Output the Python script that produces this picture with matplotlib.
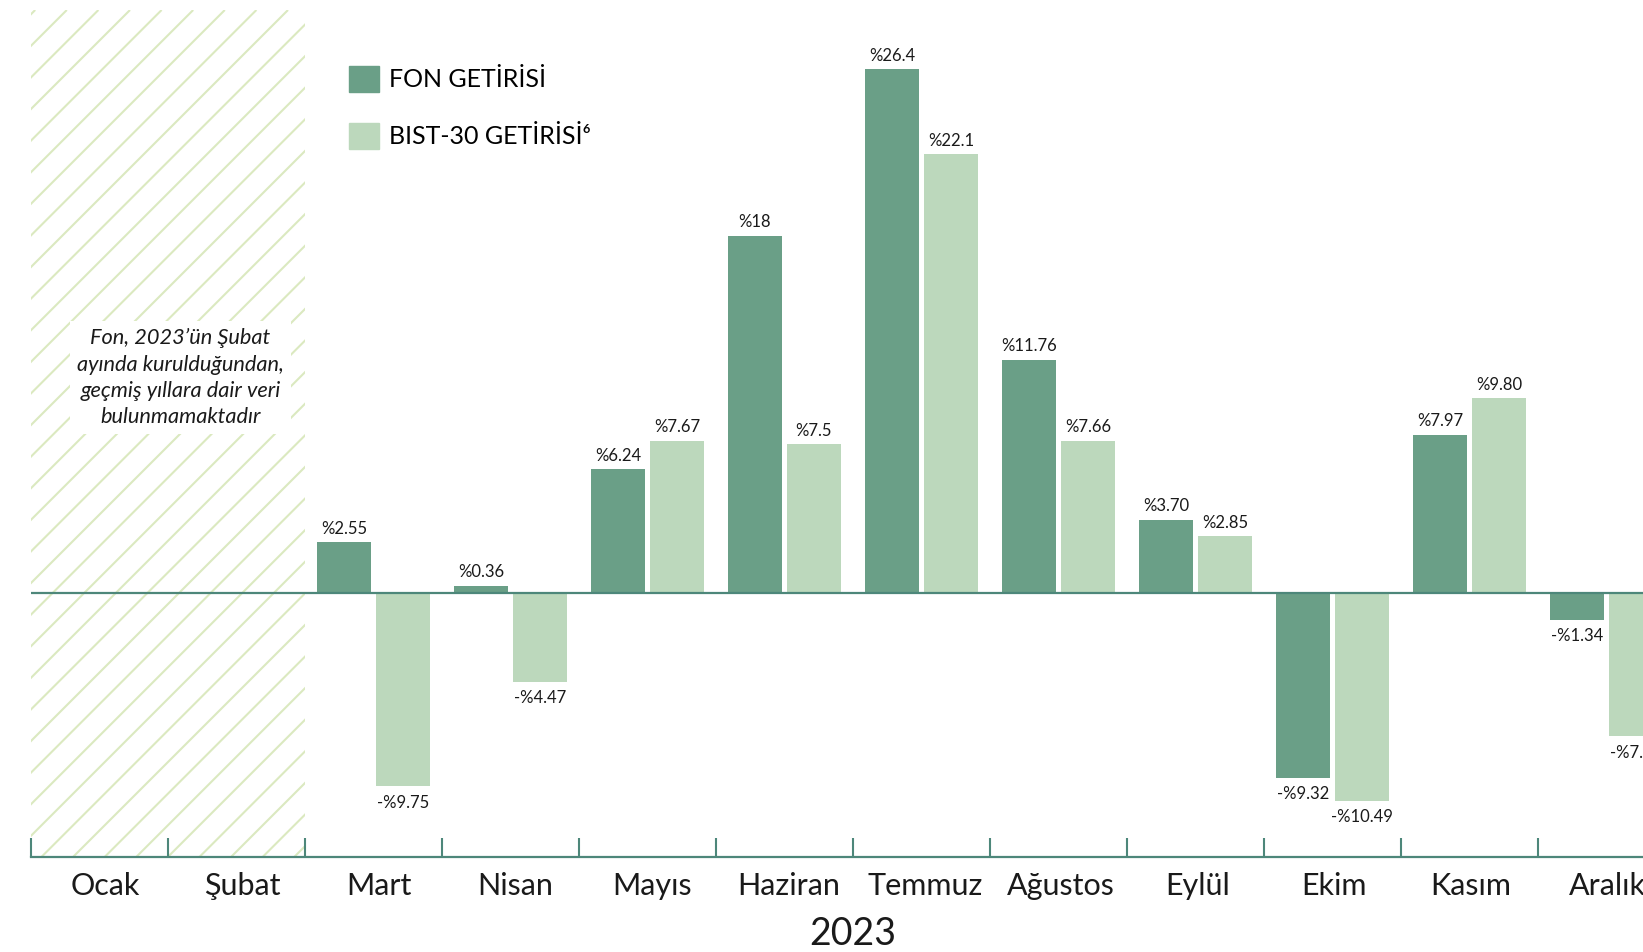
import matplotlib
matplotlib.use("Agg")
import matplotlib.pyplot as plt
import numpy as np
from matplotlib.patches import Patch, Rectangle
from matplotlib.collections import LineCollection

plt.rcParams["font.family"] = ["Lato", "DejaVu Sans"]

months = ["Ocak", "Şubat", "Mart", "Nisan", "Mayıs", "Haziran",
          "Temmuz", "Ağustos", "Eylül", "Ekim", "Kasım", "Aralık"]

# data starts in March (fund founded in February)
first_month = 2
fon_values = [2.55, 0.36, 6.24, 18.0, 26.4, 11.76, 3.70, -9.32, 7.97, -1.34]
bist_values = [-9.75, -4.47, 7.67, 7.5, 22.1, 7.66, 2.85, -10.49, 9.80, -7.23]
fon_labels = ["%2.55", "%0.36", "%6.24", "%18", "%26.4", "%11.76", "%3.70",
              "-%9.32", "%7.97", "-%1.34"]
bist_labels = ["-%9.75", "-%4.47", "%7.67", "%7.5", "%22.1", "%7.66", "%2.85",
               "-%10.49", "%9.80", "-%7.23"]

FON_COLOR = "#6a9f87"
BIST_COLOR = "#bcd8bc"
LINE_COLOR = "#4d877a"
HATCH_COLOR = "#dbe9c0"
TEXT_COLOR = "#1a1a1a"

W, H = 1643, 952
fig = plt.figure(figsize=(W / 100, H / 100), dpi=100)
# axes run past the right edge like the original crop
left, right, top, bottom = 31, 31 + 12 * 137, 10, 857
ax = fig.add_axes([left / W, 1 - bottom / H, (right - left) / W, (bottom - top) / H])
ax.set_xlim(0, 12)
ax.set_ylim(-13.31, 29.38)

x = np.arange(first_month, 12) + 0.5
bw = 0.39
ax.bar(x - 0.215, fon_values, width=bw, color=FON_COLOR, zorder=2)
ax.bar(x + 0.215, bist_values, width=bw, color=BIST_COLOR, zorder=2)
ax.axhline(0, color=LINE_COLOR, lw=1.6, zorder=3)

for xs, vals, labs in [(x - 0.215, fon_values, fon_labels),
                       (x + 0.215, bist_values, bist_labels)]:
    for xi, v, lab in zip(xs, vals, labs):
        off = 4 if v >= 0 else -6
        ax.annotate(lab, (xi, v), xytext=(0, off), textcoords="offset points",
                    ha="center", va="bottom" if v >= 0 else "top",
                    fontsize=12, color=TEXT_COLOR, zorder=4)

# hatched "no data" zone for Ocak-Şubat
fig.canvas.draw()
p0 = ax.transData.transform((0, 0))
p1 = ax.transData.transform((1, 1))
sx, sy = p1[0] - p0[0], abs(p1[1] - p0[1])
y0, y1 = ax.get_ylim()
run = (y1 - y0) * sy / sx
step = 31.6 / sx
segs = [[(s, y0), (s + run, y1)] for s in np.arange(-run - 0.2, first_month + step, step)]
zone = Rectangle((0, y0), first_month, y1 - y0, transform=ax.transData,
                 facecolor="none", edgecolor="none")
ax.add_patch(zone)
hatch = LineCollection(segs, colors=HATCH_COLOR, linewidths=1.5, zorder=0)
ax.add_collection(hatch)
hatch.set_clip_path(zone)

ax.text(1.09, 0.566, "Fon, 2023’ün Şubat\nayında kurulduğundan,\ngeçmiş yıllara dair veri\nbulunmamaktadır",
        transform=ax.get_xaxis_transform(), ha="center", va="center",
        fontsize=15.7, style="italic", color=TEXT_COLOR, linespacing=1.39,
        bbox=dict(facecolor="white", edgecolor="none", pad=5), zorder=5)

# axis styling
for s in ["top", "right", "left"]:
    ax.spines[s].set_visible(False)
ax.spines["bottom"].set_color(LINE_COLOR)
ax.spines["bottom"].set_linewidth(1.6)
ax.set_yticks([])
idx = np.arange(12)
ax.set_xticks(idx + 0.5 + 0.045 - 0.0035 * idx)
ax.set_xticklabels(months, fontsize=22, color=TEXT_COLOR)
ax.tick_params(axis="x", which="major", length=0, pad=11)
ax.set_xticks(idx, minor=True)
ax.tick_params(axis="x", which="minor", direction="in", length=13.5,
               width=1.5, color=LINE_COLOR)

fig.text(853 / W, 1 - 934 / H, "2023", ha="center", va="center",
         fontsize=27, color=TEXT_COLOR)

handles = [Patch(color=FON_COLOR), Patch(color=BIST_COLOR)]
fig.legend(handles, ["FON GETİRİSİ", "BIST-30 GETİRİSİ⁶"], loc="upper left",
           bbox_to_anchor=(349 / W, 1 - 66 / H), frameon=False, fontsize=18,
           handlelength=1.2, handleheight=1.2, handletextpad=0.4,
           labelspacing=1.25, borderpad=0, borderaxespad=0)

fig.savefig("out.png", dpi=100)
